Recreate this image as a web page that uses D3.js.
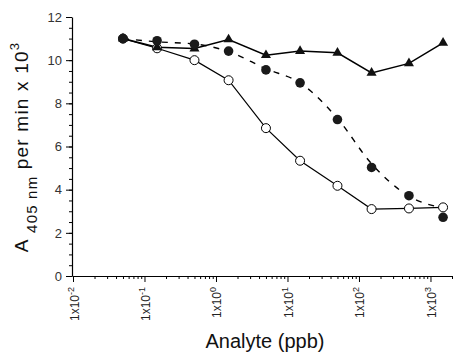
<!DOCTYPE html>
<html><head><meta charset="utf-8">
<script src="https://cdn.jsdelivr.net/npm/d3@7"></script>
<style>body{margin:0;background:#fff} svg{display:block;font-family:"Liberation Sans",Arial,sans-serif}</style>
</head><body><svg id="c" width="454" height="352"></svg>
<script>
const conc = [0.05, 0.15, 0.5, 1.5, 5, 15, 50, 150, 500, 1500];
const openCircles = [11.0, 10.55, 10.0, 9.07, 6.85, 5.34, 4.18, 3.1, 3.13, 3.18];
const filledCircles = [11.0, 10.9, 10.74, 10.42, 9.55, 8.95, 7.25, 5.03, 3.72, 2.72];
const dashedFit = [11.0, 10.85, 10.75, 10.4, 9.6, 8.95, 7.3, 5.2, 3.7, 3.15];
const triangles = [11.0, 10.6, 10.54, 10.96, 10.23, 10.42, 10.34, 9.41, 9.85, 10.8];
const xTickExps = [-2, -1, 0, 1, 2, 3];
const yTicks = [0, 2, 4, 6, 8, 10, 12];

const svg = d3.select("#c");
const x = d3.scaleLog().domain([0.01, 2000]).range([73, 452]);
const y = d3.scaleLinear().domain([0, 12]).range([276, 17]);

// x axis
const majors = xTickExps.map(e => Math.pow(10, e));
const minors = [];
xTickExps.forEach(e => { for (let k = 2; k <= 9; k++) { const v = k * Math.pow(10, e); if (v <= 2000) minors.push(v); } });

const gx = svg.append("g").attr("transform", "translate(0,276)");
gx.call(d3.axisBottom(x).tickValues(minors).tickSize(3).tickSizeOuter(0).tickFormat(""));
const gx2 = svg.append("g").attr("transform", "translate(0,276)");
gx2.call(d3.axisBottom(x).tickValues(majors).tickSize(6).tickSizeOuter(0).tickFormat(""));
gx2.select(".domain").remove();
svg.append("line").attr("x1", 72).attr("x2", 73).attr("y1", 276).attr("y2", 276).attr("stroke", "#000");
gx.select(".domain").attr("stroke-width", 1.2);

gx2.selectAll(".tick").each(function(d, i) {
  const t = d3.select(this).append("text")
    .attr("transform", "translate(5,11) rotate(-90)")
    .attr("text-anchor", "end")
    .attr("fill", "#222")
    .attr("font-size", 12);
  t.append("tspan").text("1x10");
  t.append("tspan").attr("dy", -5).attr("font-size", 9).text(String(xTickExps[i]));
});

// y axis
const yMinor = d3.range(0, 12.01, 0.5);
const gy = svg.append("g").attr("transform", "translate(72,0)");
gy.call(d3.axisLeft(y).tickValues(yMinor).tickSize(3).tickSizeOuter(0).tickFormat(""));
gy.select(".domain").attr("stroke-width", 1.2);
const gy2 = svg.append("g").attr("transform", "translate(72,0)");
gy2.call(d3.axisLeft(y).tickValues(yTicks).tickSize(6).tickPadding(4).tickSizeOuter(0));
gy2.select(".domain").remove();
gy2.selectAll(".tick text").attr("font-size", 13).attr("fill", "#333")
  .attr("font-family", "Liberation Sans, Arial, sans-serif");

// lines
const line = vals => d3.line().x((d, i) => x(conc[i])).y(d => y(d))(vals);
svg.append("path").attr("d", line(openCircles)).attr("fill", "none").attr("stroke", "#000").attr("stroke-width", 1.2);
svg.append("path").attr("d", line(triangles)).attr("fill", "none").attr("stroke", "#000").attr("stroke-width", 1.5);
svg.append("path").attr("d", d3.line().curve(d3.curveMonotoneX).x((d, i) => x(conc[i])).y(d => y(d))(dashedFit))
  .attr("fill", "none").attr("stroke", "#000").attr("stroke-width", 1.4).attr("stroke-dasharray", "6,7");

// markers
svg.append("g").selectAll("circle").data(openCircles).join("circle")
  .attr("cx", (d, i) => x(conc[i])).attr("cy", d => y(d)).attr("r", 4.5)
  .attr("fill", "#fff").attr("stroke", "#000").attr("stroke-width", 1);
svg.append("g").selectAll("path").data(triangles).join("path")
  .attr("d", d3.symbol(d3.symbolTriangle, 44))
  .attr("transform", (d, i) => `translate(${x(conc[i])},${y(d)})`)
  .attr("fill", "#111");
svg.append("g").selectAll("circle").data(filledCircles).join("circle")
  .attr("cx", (d, i) => x(conc[i])).attr("cy", d => y(d)).attr("r", 4.8)
  .attr("fill", "#1a1a1a");

// titles
svg.append("text").attr("x", 265).attr("y", 348).attr("text-anchor", "middle")
  .attr("font-size", 20).attr("fill", "#111").text("Analyte (ppb)");

const yt = svg.append("text").attr("transform", "translate(28,147) rotate(-90)")
  .attr("text-anchor", "middle").attr("font-size", 19).attr("fill", "#111")
  .attr("letter-spacing", 1.2);
yt.append("tspan").text("A ");
yt.append("tspan").attr("font-size", 15).attr("dy", 9).text("405 nm");
yt.append("tspan").attr("dy", -9).text(" per min x 10");
yt.append("tspan").attr("font-size", 13).attr("dy", -9).text("3");
</script></body></html>
